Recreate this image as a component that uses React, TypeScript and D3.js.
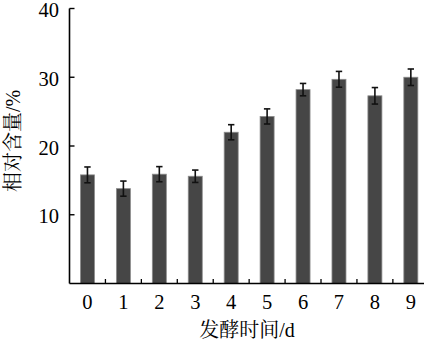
import React from "react";
import * as d3 from "d3";

const categories = ["0", "1", "2", "3", "4", "5", "6", "7", "8", "9"];
const values = [15.8, 13.8, 15.9, 15.6, 22.0, 24.3, 28.2, 29.7, 27.3, 30.0];
const errors = [1.15, 1.1, 1.1, 0.9, 1.1, 1.1, 0.9, 1.15, 1.2, 1.2];
const yTicks = [10, 20, 30, 40];
const xLabel = "发酵时间/d";
const yLabel = "相对含量/%";

const W = 424;
const H = 340;
const axisX = 69.5;
const baseY = 283.5;
const topY = 8.5;

export default function App() {
  const x = d3.scaleBand<string>().domain(categories).range([axisX, axisX + 359.3]).paddingInner(0).paddingOuter(0);
  const y = d3.scaleLinear().domain([0, 40]).range([baseY, topY]);
  const bw = 14;
  const numFont = "'Liberation Serif', 'DejaVu Serif', serif";
  const cjkFont = "'Liberation Serif', 'Noto Serif CJK SC', 'Noto Sans CJK SC', serif";
  const boundaries = categories.slice(1).map((c) => x(c) as number);

  return (
    <svg width={W} height={H} style={{ position: "absolute", left: 0, top: 0, background: "#fff" }}>
      {categories.map((c, i) => {
        const cx = (x(c) as number) + x.bandwidth() / 2;
        return (
          <rect
            key={c}
            x={cx - bw / 2}
            y={y(values[i])}
            width={bw}
            height={baseY - y(values[i])}
            fill="#464646"
            stroke="#8c8c8c"
            strokeWidth={0.8}
          />
        );
      })}
      {categories.map((c, i) => {
        const cx = (x(c) as number) + x.bandwidth() / 2;
        const t = y(values[i] + errors[i]);
        const b = y(values[i] - errors[i]);
        return (
          <g key={"e" + c} stroke="#111" strokeWidth={1.6}>
            <line x1={cx} x2={cx} y1={t} y2={b} />
            <line x1={cx - 3.2} x2={cx + 3.2} y1={t} y2={t} />
            <line x1={cx - 3.2} x2={cx + 3.2} y1={b} y2={b} />
          </g>
        );
      })}
      <line x1={axisX} x2={axisX} y1={topY} y2={baseY} stroke="#000" strokeWidth={1.6} />
      <line x1={axisX} x2={W + 5} y1={baseY} y2={baseY} stroke="#000" strokeWidth={1.6} />
      {yTicks.map((t) => (
        <g key={"yt" + t}>
          <line x1={axisX} x2={axisX + 5} y1={y(t)} y2={y(t)} stroke="#000" strokeWidth={1.4} />
          <text x={59} y={y(t) + 1.5} dy="0.35em" textAnchor="end" fontFamily={numFont} fontSize={20.5} fill="#000">
            {t}
          </text>
        </g>
      ))}
      {boundaries.map((bx, i) => (
        <line key={"xt" + i} x1={bx} x2={bx} y1={baseY} y2={baseY - 4.5} stroke="#000" strokeWidth={1.3} />
      ))}
      {categories.map((c) => (
        <text
          key={"xl" + c}
          x={(x(c) as number) + x.bandwidth() / 2}
          y={301.5}
          dy="0.35em"
          textAnchor="middle"
          fontFamily={numFont}
          fontSize={20.5}
          fill="#000"
        >
          {c}
        </text>
      ))}
      <text x={247} y={329.5} dy="0.35em" textAnchor="middle" fontFamily={cjkFont} fontSize={20} fill="#000">
        {xLabel}
      </text>
      <text
        transform={`translate(13,141) rotate(-90)`}
        dy="0.35em"
        textAnchor="middle"
        fontFamily={cjkFont}
        fontSize={20}
        fill="#000"
      >
        {yLabel}
      </text>
    </svg>
  );
}
